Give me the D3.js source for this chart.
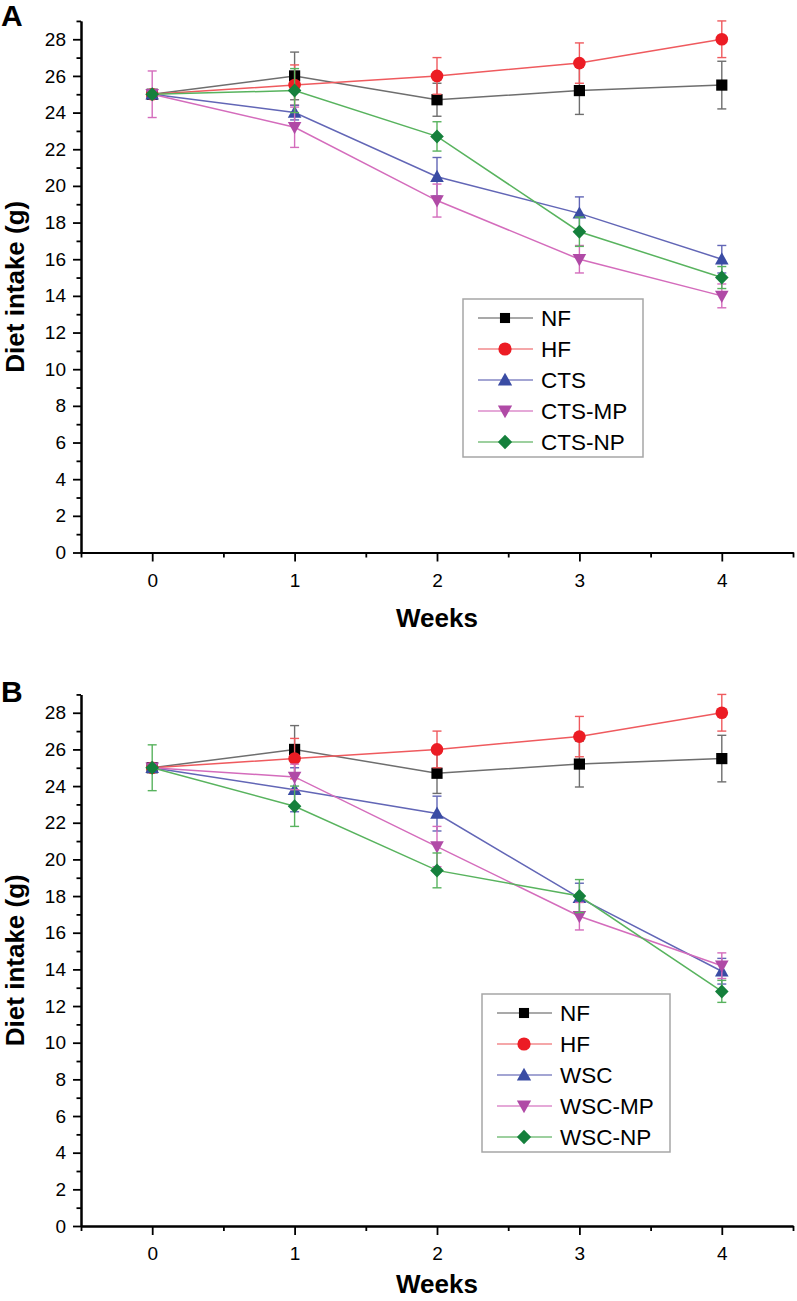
<!DOCTYPE html>
<html>
<head>
<meta charset="utf-8">
<script src="https://cdn.jsdelivr.net/npm/d3@7"></script>
<style>
  html, body { margin: 0; padding: 0; background: #fff; }
  svg { display: block; font-family: "Liberation Sans", Arial, sans-serif; }
</style>
</head>
<body>
<svg id="chart" width="797" height="1301"></svg>
<script>
// weeks on the x axis
const weeks = [0, 1, 2, 3, 4];
const yMajorTicks = d3.range(0, 29, 2);
const yMinorTicks = d3.range(1, 30, 2);
const xMinorTicks = [-0.5, 0.5, 1.5, 2.5, 3.5, 4.5];

// panel A: chitosan groups
const groupsA = ['NF', 'HF', 'CTS', 'CTS-MP', 'CTS-NP'];
const meanA_NF = [25, 26, 24.7, 25.2, 25.5];
const meanA_HF = [25, 25.5, 26, 26.7, 28];
const meanA_CTS = [25, 24, 20.5, 18.5, 16];
const meanA_MP = [25, 23.2, 19.2, 16, 14];
const meanA_NP = [25, 25.2, 22.7, 17.5, 15];
const errA_NF = [0, 1.3, 0.9, 1.3, 1.3];
const errA_HF = [0, 1.1, 1.0, 1.1, 1.0];
const errA_CTS = [0, 0.4, 1.05, 0.9, 0.75];
const errA_MP = [1.27, 1.1, 0.9, 0.75, 0.65];
const errA_NP = [0, 1.2, 0.8, 0.8, 0.6];

// panel B: water soluble chitosan groups
const groupsB = ['NF', 'HF', 'WSC', 'WSC-MP', 'WSC-NP'];
const meanB_NF = [25, 26, 24.7, 25.2, 25.5];
const meanB_HF = [25, 25.5, 26, 26.7, 28];
const meanB_WSC = [25, 23.8, 22.5, 17.9, 13.9];
const meanB_MP = [25, 24.5, 20.7, 16.9, 14.2];
const meanB_NP = [25, 22.9, 19.4, 18, 12.8];
const errB_NF = [0, 1.3, 1.1, 1.25, 1.27];
const errB_HF = [0, 1.1, 1.0, 1.1, 1.0];
const errB_WSC = [0, 1.2, 0.95, 0.8, 0.7];
const errB_MP = [0, 0.7, 1.1, 0.75, 0.7];
const errB_NP = [1.25, 1.1, 0.95, 0.9, 0.6];

// one style per group position: marker shape, marker fill, line colour
const styles = [
  { shape: 'square', fill: '#000000', line: '#6e6e6e', legendLine: '#8c8c8c' },
  { shape: 'circle', fill: '#ec1c24', line: '#ef5a5e', legendLine: '#f28a8d' },
  { shape: 'up', fill: '#3a4ca4', line: '#6266b6', legendLine: '#8487c4' },
  { shape: 'down', fill: '#b04aa6', line: '#d46cbc', legendLine: '#dc8ccb' },
  { shape: 'diamond', fill: '#15803c', line: '#58b35e', legendLine: '#7cc07f' }
];

function markerPath(shape, k) {
  k = k || 1;
  switch (shape) {
    case 'square': return `M${-5.6 * k},${-5.6 * k}h${11.2 * k}v${11.2 * k}h${-11.2 * k}Z`;
    case 'up': return `M0,${-7 * k}L${6.8 * k},${5.2 * k}L${-6.8 * k},${5.2 * k}Z`;
    case 'down': return `M0,${7 * k}L${6.8 * k},${-5.2 * k}L${-6.8 * k},${-5.2 * k}Z`;
    case 'diamond': return `M0,${-7 * k}L${6.8 * k},0L0,${7 * k}L${-6.8 * k},0Z`;
    default: return d3.symbol(d3.symbolCircle, 125 * k * k)();
  }
}

const svg = d3.select('#chart');

function drawPanel(cfg) {
  let x = d3.scaleLinear().domain([-0.5, 4.5]).range([81, 793]),
    y = d3.scaleLinear().domain([0, 29]).range([cfg.bottom, cfg.bottom - 29 * 18.33]),
    g = svg.append('g');

  // panel letter
  g.append('text')
    .attr('x', 1).attr('y', cfg.letterY)
    .attr('font-size', 30).attr('font-weight', 'bold')
    .text(cfg.letter);

  // axes: major ticks with labels, then minor ticks
  let yMajor = g.append('g').attr('transform', `translate(81,0)`)
    .call(d3.axisLeft(y).tickValues(yMajorTicks).tickSize(8).tickSizeOuter(0).tickPadding(7).tickFormat(d3.format('d')));
  let yMinor = g.append('g').attr('transform', `translate(81,0)`)
    .call(d3.axisLeft(y).tickValues(yMinorTicks).tickSize(4.5).tickSizeOuter(0).tickFormat(''));
  let xMajor = g.append('g').attr('transform', `translate(0,${cfg.bottom})`)
    .call(d3.axisBottom(x).tickValues(weeks).tickSize(9).tickSizeOuter(0).tickPadding(12).tickFormat(d3.format('d')));
  let xMinor = g.append('g').attr('transform', `translate(0,${cfg.bottom})`)
    .call(d3.axisBottom(x).tickValues(xMinorTicks).tickSize(5).tickSizeOuter(0).tickFormat(''));

  [yMajor, yMinor, xMajor, xMinor].forEach(a => {
    a.select('.domain').attr('stroke', '#000').attr('stroke-width', 2);
    a.selectAll('.tick line').attr('stroke', '#000').attr('stroke-width', 1.8);
    a.selectAll('.tick text')
      .attr('font-size', 19).attr('fill', '#000')
      .attr('font-family', '"Liberation Sans", Arial, sans-serif');
  });

  // axis titles
  g.append('text')
    .attr('transform', `translate(24,${y(14.5)}) rotate(-90)`)
    .attr('text-anchor', 'middle')
    .attr('font-size', 26).attr('font-weight', 'bold')
    .text('Diet intake (g)');
  g.append('text')
    .attr('x', x(2)).attr('y', cfg.bottom + cfg.weeksGap)
    .attr('text-anchor', 'middle')
    .attr('font-size', 26).attr('font-weight', 'bold')
    .text('Weeks');

  let line = d3.line().x((d, i) => x(weeks[i])).y(d => y(d));

  cfg.means.forEach((m, si) => {
    let st = styles[si],
      err = cfg.errs[si],
      s = g.append('g');

    s.append('path')
      .attr('d', line(m))
      .attr('fill', 'none')
      .attr('stroke', st.line)
      .attr('stroke-width', 1.5);

    // error bars
    let eb = s.selectAll('g.err')
      .data(m.map((v, i) => ({ w: weeks[i], v: v, e: err[i] })).filter(d => d.e > 0))
      .enter().append('g')
      .attr('stroke', st.line)
      .attr('stroke-width', 1.4);
    eb.append('line')
      .attr('x1', d => x(d.w)).attr('x2', d => x(d.w))
      .attr('y1', d => y(d.v - d.e)).attr('y2', d => y(d.v + d.e));
    eb.append('line')
      .attr('x1', d => x(d.w) - 4.5).attr('x2', d => x(d.w) + 4.5)
      .attr('y1', d => y(d.v + d.e)).attr('y2', d => y(d.v + d.e));
    eb.append('line')
      .attr('x1', d => x(d.w) - 4.5).attr('x2', d => x(d.w) + 4.5)
      .attr('y1', d => y(d.v - d.e)).attr('y2', d => y(d.v - d.e));

    s.selectAll('path.mk')
      .data(m)
      .enter().append('path')
      .attr('class', 'mk')
      .attr('d', markerPath(st.shape))
      .attr('transform', (d, i) => `translate(${x(weeks[i])},${y(d)})`)
      .attr('fill', st.fill);
  });

  // legend
  let lg = svg.append('g').attr('transform', `translate(${cfg.legend.x},${cfg.legend.y})`);
  lg.append('rect')
    .attr('x', 0).attr('y', 0)
    .attr('width', cfg.legend.w).attr('height', 158)
    .attr('fill', '#fff')
    .attr('stroke', '#a6a6a6')
    .attr('stroke-width', 1.5);
  cfg.groups.forEach((name, i) => {
    let st = styles[i],
      ry = 19 + i * 31,
      row = lg.append('g');
    row.append('line')
      .attr('x1', 15).attr('x2', 70)
      .attr('y1', ry).attr('y2', ry)
      .attr('stroke', st.legendLine).attr('stroke-width', 1.5);
    row.append('path')
      .attr('d', markerPath(st.shape, st.shape === 'square' ? 0.9 : 1.05))
      .attr('transform', `translate(42,${ry})`)
      .attr('fill', st.fill);
    row.append('text')
      .attr('x', 78).attr('y', ry)
      .attr('dy', '0.36em')
      .attr('font-size', 22.5)
      .text(name);
  });
}

drawPanel({
  letter: 'A', letterY: 26, bottom: 552.5, weeksGap: 74,
  groups: groupsA,
  means: [meanA_NF, meanA_HF, meanA_CTS, meanA_MP, meanA_NP],
  errs: [errA_NF, errA_HF, errA_CTS, errA_MP, errA_NP],
  legend: { x: 463, y: 299, w: 180 }
});
drawPanel({
  letter: 'B', letterY: 702, bottom: 1226, weeksGap: 67,
  groups: groupsB,
  means: [meanB_NF, meanB_HF, meanB_WSC, meanB_MP, meanB_NP],
  errs: [errB_NF, errB_HF, errB_WSC, errB_MP, errB_NP],
  legend: { x: 482, y: 994, w: 188 }
});
</script>
</body>
</html>
